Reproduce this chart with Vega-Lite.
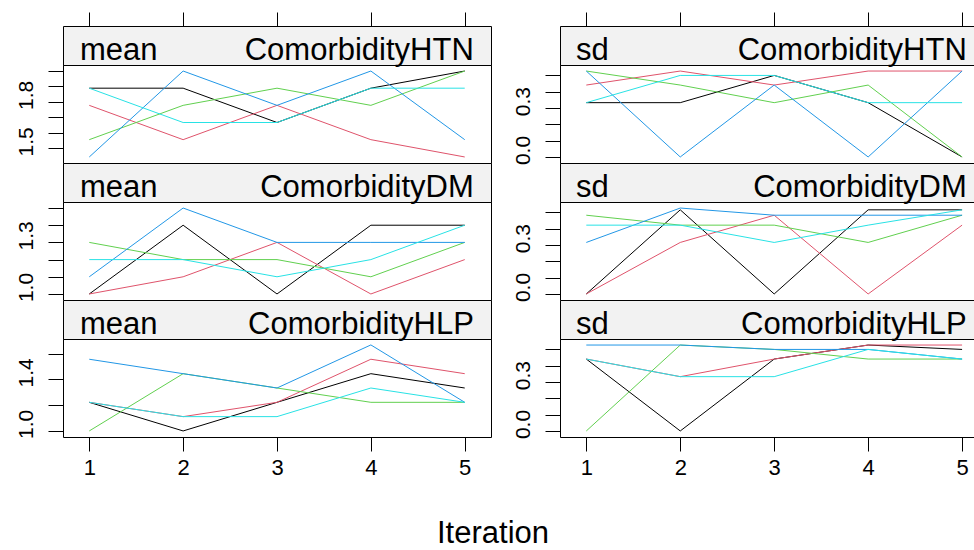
{
  "$schema": "https://vega.github.io/schema/vega-lite/v6.json",
  "padding": {"left": 14, "top": 11, "right": 0, "bottom": 0},
  "autosize": {"type": "pad"},
  "config": {
    "font": "Liberation Sans",
    "view": {"stroke": "black", "strokeWidth": 1},
    "axis": {"domain": false, "grid": false, "tickColor": "black", "tickWidth": 1, "labelColor": "black", "labelFont": "Liberation Sans", "labelFontSize": 21, "tickSize": 15, "labelOverlap": false, "title": null},
    "text": {"font": "Liberation Sans", "fontSize": 31, "color": "black"},
    "line": {"strokeWidth": 1}
  },
  "datasets": {
    "d": [
      {"stat":"mean","var":"ComorbidityHTN","chain":1,"iter":1,"value":1.889},
      {"stat":"mean","var":"ComorbidityHTN","chain":1,"iter":2,"value":1.889},
      {"stat":"mean","var":"ComorbidityHTN","chain":1,"iter":3,"value":1.667},
      {"stat":"mean","var":"ComorbidityHTN","chain":1,"iter":4,"value":1.889},
      {"stat":"mean","var":"ComorbidityHTN","chain":1,"iter":5,"value":2.0},
      {"stat":"mean","var":"ComorbidityHTN","chain":2,"iter":1,"value":1.778},
      {"stat":"mean","var":"ComorbidityHTN","chain":2,"iter":2,"value":1.556},
      {"stat":"mean","var":"ComorbidityHTN","chain":2,"iter":3,"value":1.778},
      {"stat":"mean","var":"ComorbidityHTN","chain":2,"iter":4,"value":1.556},
      {"stat":"mean","var":"ComorbidityHTN","chain":2,"iter":5,"value":1.444},
      {"stat":"mean","var":"ComorbidityHTN","chain":3,"iter":1,"value":1.556},
      {"stat":"mean","var":"ComorbidityHTN","chain":3,"iter":2,"value":1.778},
      {"stat":"mean","var":"ComorbidityHTN","chain":3,"iter":3,"value":1.889},
      {"stat":"mean","var":"ComorbidityHTN","chain":3,"iter":4,"value":1.778},
      {"stat":"mean","var":"ComorbidityHTN","chain":3,"iter":5,"value":2.0},
      {"stat":"mean","var":"ComorbidityHTN","chain":4,"iter":1,"value":1.444},
      {"stat":"mean","var":"ComorbidityHTN","chain":4,"iter":2,"value":2.0},
      {"stat":"mean","var":"ComorbidityHTN","chain":4,"iter":3,"value":1.778},
      {"stat":"mean","var":"ComorbidityHTN","chain":4,"iter":4,"value":2.0},
      {"stat":"mean","var":"ComorbidityHTN","chain":4,"iter":5,"value":1.556},
      {"stat":"mean","var":"ComorbidityHTN","chain":5,"iter":1,"value":1.889},
      {"stat":"mean","var":"ComorbidityHTN","chain":5,"iter":2,"value":1.667},
      {"stat":"mean","var":"ComorbidityHTN","chain":5,"iter":3,"value":1.667},
      {"stat":"mean","var":"ComorbidityHTN","chain":5,"iter":4,"value":1.889},
      {"stat":"mean","var":"ComorbidityHTN","chain":5,"iter":5,"value":1.889},

      {"stat":"sd","var":"ComorbidityHTN","chain":1,"iter":1,"value":0.333},
      {"stat":"sd","var":"ComorbidityHTN","chain":1,"iter":2,"value":0.333},
      {"stat":"sd","var":"ComorbidityHTN","chain":1,"iter":3,"value":0.5},
      {"stat":"sd","var":"ComorbidityHTN","chain":1,"iter":4,"value":0.333},
      {"stat":"sd","var":"ComorbidityHTN","chain":1,"iter":5,"value":0.0},
      {"stat":"sd","var":"ComorbidityHTN","chain":2,"iter":1,"value":0.441},
      {"stat":"sd","var":"ComorbidityHTN","chain":2,"iter":2,"value":0.527},
      {"stat":"sd","var":"ComorbidityHTN","chain":2,"iter":3,"value":0.441},
      {"stat":"sd","var":"ComorbidityHTN","chain":2,"iter":4,"value":0.527},
      {"stat":"sd","var":"ComorbidityHTN","chain":2,"iter":5,"value":0.527},
      {"stat":"sd","var":"ComorbidityHTN","chain":3,"iter":1,"value":0.527},
      {"stat":"sd","var":"ComorbidityHTN","chain":3,"iter":2,"value":0.441},
      {"stat":"sd","var":"ComorbidityHTN","chain":3,"iter":3,"value":0.333},
      {"stat":"sd","var":"ComorbidityHTN","chain":3,"iter":4,"value":0.441},
      {"stat":"sd","var":"ComorbidityHTN","chain":3,"iter":5,"value":0.0},
      {"stat":"sd","var":"ComorbidityHTN","chain":4,"iter":1,"value":0.527},
      {"stat":"sd","var":"ComorbidityHTN","chain":4,"iter":2,"value":0.0},
      {"stat":"sd","var":"ComorbidityHTN","chain":4,"iter":3,"value":0.441},
      {"stat":"sd","var":"ComorbidityHTN","chain":4,"iter":4,"value":0.0},
      {"stat":"sd","var":"ComorbidityHTN","chain":4,"iter":5,"value":0.527},
      {"stat":"sd","var":"ComorbidityHTN","chain":5,"iter":1,"value":0.333},
      {"stat":"sd","var":"ComorbidityHTN","chain":5,"iter":2,"value":0.5},
      {"stat":"sd","var":"ComorbidityHTN","chain":5,"iter":3,"value":0.5},
      {"stat":"sd","var":"ComorbidityHTN","chain":5,"iter":4,"value":0.333},
      {"stat":"sd","var":"ComorbidityHTN","chain":5,"iter":5,"value":0.333},

      {"stat":"mean","var":"ComorbidityDM","chain":1,"iter":1,"value":1.0},
      {"stat":"mean","var":"ComorbidityDM","chain":1,"iter":2,"value":1.4},
      {"stat":"mean","var":"ComorbidityDM","chain":1,"iter":3,"value":1.0},
      {"stat":"mean","var":"ComorbidityDM","chain":1,"iter":4,"value":1.4},
      {"stat":"mean","var":"ComorbidityDM","chain":1,"iter":5,"value":1.4},
      {"stat":"mean","var":"ComorbidityDM","chain":2,"iter":1,"value":1.0},
      {"stat":"mean","var":"ComorbidityDM","chain":2,"iter":2,"value":1.1},
      {"stat":"mean","var":"ComorbidityDM","chain":2,"iter":3,"value":1.3},
      {"stat":"mean","var":"ComorbidityDM","chain":2,"iter":4,"value":1.0},
      {"stat":"mean","var":"ComorbidityDM","chain":2,"iter":5,"value":1.2},
      {"stat":"mean","var":"ComorbidityDM","chain":3,"iter":1,"value":1.3},
      {"stat":"mean","var":"ComorbidityDM","chain":3,"iter":2,"value":1.2},
      {"stat":"mean","var":"ComorbidityDM","chain":3,"iter":3,"value":1.2},
      {"stat":"mean","var":"ComorbidityDM","chain":3,"iter":4,"value":1.1},
      {"stat":"mean","var":"ComorbidityDM","chain":3,"iter":5,"value":1.3},
      {"stat":"mean","var":"ComorbidityDM","chain":4,"iter":1,"value":1.1},
      {"stat":"mean","var":"ComorbidityDM","chain":4,"iter":2,"value":1.5},
      {"stat":"mean","var":"ComorbidityDM","chain":4,"iter":3,"value":1.3},
      {"stat":"mean","var":"ComorbidityDM","chain":4,"iter":4,"value":1.3},
      {"stat":"mean","var":"ComorbidityDM","chain":4,"iter":5,"value":1.3},
      {"stat":"mean","var":"ComorbidityDM","chain":5,"iter":1,"value":1.2},
      {"stat":"mean","var":"ComorbidityDM","chain":5,"iter":2,"value":1.2},
      {"stat":"mean","var":"ComorbidityDM","chain":5,"iter":3,"value":1.1},
      {"stat":"mean","var":"ComorbidityDM","chain":5,"iter":4,"value":1.2},
      {"stat":"mean","var":"ComorbidityDM","chain":5,"iter":5,"value":1.4},

      {"stat":"sd","var":"ComorbidityDM","chain":1,"iter":1,"value":0.0},
      {"stat":"sd","var":"ComorbidityDM","chain":1,"iter":2,"value":0.516},
      {"stat":"sd","var":"ComorbidityDM","chain":1,"iter":3,"value":0.0},
      {"stat":"sd","var":"ComorbidityDM","chain":1,"iter":4,"value":0.516},
      {"stat":"sd","var":"ComorbidityDM","chain":1,"iter":5,"value":0.516},
      {"stat":"sd","var":"ComorbidityDM","chain":2,"iter":1,"value":0.0},
      {"stat":"sd","var":"ComorbidityDM","chain":2,"iter":2,"value":0.316},
      {"stat":"sd","var":"ComorbidityDM","chain":2,"iter":3,"value":0.483},
      {"stat":"sd","var":"ComorbidityDM","chain":2,"iter":4,"value":0.0},
      {"stat":"sd","var":"ComorbidityDM","chain":2,"iter":5,"value":0.422},
      {"stat":"sd","var":"ComorbidityDM","chain":3,"iter":1,"value":0.483},
      {"stat":"sd","var":"ComorbidityDM","chain":3,"iter":2,"value":0.422},
      {"stat":"sd","var":"ComorbidityDM","chain":3,"iter":3,"value":0.422},
      {"stat":"sd","var":"ComorbidityDM","chain":3,"iter":4,"value":0.316},
      {"stat":"sd","var":"ComorbidityDM","chain":3,"iter":5,"value":0.483},
      {"stat":"sd","var":"ComorbidityDM","chain":4,"iter":1,"value":0.316},
      {"stat":"sd","var":"ComorbidityDM","chain":4,"iter":2,"value":0.527},
      {"stat":"sd","var":"ComorbidityDM","chain":4,"iter":3,"value":0.483},
      {"stat":"sd","var":"ComorbidityDM","chain":4,"iter":4,"value":0.483},
      {"stat":"sd","var":"ComorbidityDM","chain":4,"iter":5,"value":0.483},
      {"stat":"sd","var":"ComorbidityDM","chain":5,"iter":1,"value":0.422},
      {"stat":"sd","var":"ComorbidityDM","chain":5,"iter":2,"value":0.422},
      {"stat":"sd","var":"ComorbidityDM","chain":5,"iter":3,"value":0.316},
      {"stat":"sd","var":"ComorbidityDM","chain":5,"iter":4,"value":0.422},
      {"stat":"sd","var":"ComorbidityDM","chain":5,"iter":5,"value":0.516},

      {"stat":"mean","var":"ComorbidityHLP","chain":1,"iter":1,"value":1.222},
      {"stat":"mean","var":"ComorbidityHLP","chain":1,"iter":2,"value":1.0},
      {"stat":"mean","var":"ComorbidityHLP","chain":1,"iter":3,"value":1.222},
      {"stat":"mean","var":"ComorbidityHLP","chain":1,"iter":4,"value":1.444},
      {"stat":"mean","var":"ComorbidityHLP","chain":1,"iter":5,"value":1.333},
      {"stat":"mean","var":"ComorbidityHLP","chain":2,"iter":1,"value":1.222},
      {"stat":"mean","var":"ComorbidityHLP","chain":2,"iter":2,"value":1.111},
      {"stat":"mean","var":"ComorbidityHLP","chain":2,"iter":3,"value":1.222},
      {"stat":"mean","var":"ComorbidityHLP","chain":2,"iter":4,"value":1.556},
      {"stat":"mean","var":"ComorbidityHLP","chain":2,"iter":5,"value":1.444},
      {"stat":"mean","var":"ComorbidityHLP","chain":3,"iter":1,"value":1.0},
      {"stat":"mean","var":"ComorbidityHLP","chain":3,"iter":2,"value":1.444},
      {"stat":"mean","var":"ComorbidityHLP","chain":3,"iter":3,"value":1.333},
      {"stat":"mean","var":"ComorbidityHLP","chain":3,"iter":4,"value":1.222},
      {"stat":"mean","var":"ComorbidityHLP","chain":3,"iter":5,"value":1.222},
      {"stat":"mean","var":"ComorbidityHLP","chain":4,"iter":1,"value":1.556},
      {"stat":"mean","var":"ComorbidityHLP","chain":4,"iter":2,"value":1.444},
      {"stat":"mean","var":"ComorbidityHLP","chain":4,"iter":3,"value":1.333},
      {"stat":"mean","var":"ComorbidityHLP","chain":4,"iter":4,"value":1.667},
      {"stat":"mean","var":"ComorbidityHLP","chain":4,"iter":5,"value":1.222},
      {"stat":"mean","var":"ComorbidityHLP","chain":5,"iter":1,"value":1.222},
      {"stat":"mean","var":"ComorbidityHLP","chain":5,"iter":2,"value":1.111},
      {"stat":"mean","var":"ComorbidityHLP","chain":5,"iter":3,"value":1.111},
      {"stat":"mean","var":"ComorbidityHLP","chain":5,"iter":4,"value":1.333},
      {"stat":"mean","var":"ComorbidityHLP","chain":5,"iter":5,"value":1.222},

      {"stat":"sd","var":"ComorbidityHLP","chain":1,"iter":1,"value":0.441},
      {"stat":"sd","var":"ComorbidityHLP","chain":1,"iter":2,"value":0.0},
      {"stat":"sd","var":"ComorbidityHLP","chain":1,"iter":3,"value":0.441},
      {"stat":"sd","var":"ComorbidityHLP","chain":1,"iter":4,"value":0.527},
      {"stat":"sd","var":"ComorbidityHLP","chain":1,"iter":5,"value":0.5},
      {"stat":"sd","var":"ComorbidityHLP","chain":2,"iter":1,"value":0.441},
      {"stat":"sd","var":"ComorbidityHLP","chain":2,"iter":2,"value":0.333},
      {"stat":"sd","var":"ComorbidityHLP","chain":2,"iter":3,"value":0.441},
      {"stat":"sd","var":"ComorbidityHLP","chain":2,"iter":4,"value":0.527},
      {"stat":"sd","var":"ComorbidityHLP","chain":2,"iter":5,"value":0.527},
      {"stat":"sd","var":"ComorbidityHLP","chain":3,"iter":1,"value":0.0},
      {"stat":"sd","var":"ComorbidityHLP","chain":3,"iter":2,"value":0.527},
      {"stat":"sd","var":"ComorbidityHLP","chain":3,"iter":3,"value":0.5},
      {"stat":"sd","var":"ComorbidityHLP","chain":3,"iter":4,"value":0.441},
      {"stat":"sd","var":"ComorbidityHLP","chain":3,"iter":5,"value":0.441},
      {"stat":"sd","var":"ComorbidityHLP","chain":4,"iter":1,"value":0.527},
      {"stat":"sd","var":"ComorbidityHLP","chain":4,"iter":2,"value":0.527},
      {"stat":"sd","var":"ComorbidityHLP","chain":4,"iter":3,"value":0.5},
      {"stat":"sd","var":"ComorbidityHLP","chain":4,"iter":4,"value":0.5},
      {"stat":"sd","var":"ComorbidityHLP","chain":4,"iter":5,"value":0.441},
      {"stat":"sd","var":"ComorbidityHLP","chain":5,"iter":1,"value":0.441},
      {"stat":"sd","var":"ComorbidityHLP","chain":5,"iter":2,"value":0.333},
      {"stat":"sd","var":"ComorbidityHLP","chain":5,"iter":3,"value":0.333},
      {"stat":"sd","var":"ComorbidityHLP","chain":5,"iter":4,"value":0.5},
      {"stat":"sd","var":"ComorbidityHLP","chain":5,"iter":5,"value":0.441}
    ],
    "strips": [
      {"stat":"mean","var":"ComorbidityHTN"},
      {"stat":"mean","var":"ComorbidityDM"},
      {"stat":"mean","var":"ComorbidityHLP"},
      {"stat":"sd","var":"ComorbidityHTN"},
      {"stat":"sd","var":"ComorbidityDM"},
      {"stat":"sd","var":"ComorbidityHLP"}
    ]
  },
  "title": {"text": "Iteration", "orient": "bottom", "anchor": "middle", "fontSize": 31, "fontWeight": "normal", "font": "Liberation Sans", "color": "black", "offset": 40, "dx": -4},
  "spacing": 19,
  "hconcat": [
    {
      "spacing": 0,
      "bounds": "flush",
      "vconcat": [
        {
          "width": 428, "height": 39,
          "view": {"fill": "#f2f2f2", "stroke": "black"},
          "data": {"name": "strips"},
          "transform": [{"filter": "datum.stat=='mean' && datum.var=='ComorbidityHTN'"}],
          "layer": [
            {"mark": {"type": "text", "align": "left", "baseline": "alphabetic", "dy": 14},
             "encoding": {"x": {"datum": 0.9, "type": "quantitative", "scale": {"domain": [0.72, 5.28], "nice": false, "zero": false}, "axis": {"orient": "top", "values": [1,2,3,4,5], "labels": false, "tickSize": 14}}, "text": {"field": "stat"}}},
            {"mark": {"type": "text", "align": "right", "baseline": "alphabetic", "dy": 14},
             "encoding": {"x": {"datum": 5.097, "type": "quantitative"}, "text": {"field": "var"}}}
          ]
        },
        {
          "width": 428, "height": 98,
          "data": {"name": "d"},
          "transform": [{"filter": "datum.stat=='mean' && datum.var=='ComorbidityHTN'"}],
          "mark": {"type": "line", "strokeWidth": 1},
          "encoding": {
            "x": {"field": "iter", "type": "quantitative", "scale": {"domain": [0.72, 5.28], "nice": false, "zero": false}, "axis": null},
            "y": {"field": "value", "type": "quantitative", "scale": {"domain": [1.405, 2.039], "nice": false, "zero": false},
                  "axis": {"values": [1.5, 1.6, 1.7, 1.8, 1.9, 2.0], "format": ".1f", "labelExpr": "datum.label=='1.5' || datum.label=='1.8' ? datum.label : ''", "labelAngle": 270, "labelPadding": 12, "labelOffset": -7}},
            "color": {"field": "chain", "type": "nominal", "scale": {"domain": [1,2,3,4,5], "range": ["#000000", "#DF536B", "#61D04F", "#2297E6", "#28E2E5"]}, "legend": null}
          }
        },
        {
          "width": 428, "height": 39,
          "view": {"fill": "#f2f2f2", "stroke": "black"},
          "data": {"name": "strips"},
          "transform": [{"filter": "datum.stat=='mean' && datum.var=='ComorbidityDM'"}],
          "layer": [
            {"mark": {"type": "text", "align": "left", "baseline": "alphabetic", "dy": 14},
             "encoding": {"x": {"datum": 0.9, "type": "quantitative", "scale": {"domain": [0.72, 5.28], "nice": false, "zero": false}, "axis": null}, "text": {"field": "stat"}}},
            {"mark": {"type": "text", "align": "right", "baseline": "alphabetic", "dy": 14},
             "encoding": {"x": {"datum": 5.097, "type": "quantitative"}, "text": {"field": "var"}}}
          ]
        },
        {
          "width": 428, "height": 98,
          "data": {"name": "d"},
          "transform": [{"filter": "datum.stat=='mean' && datum.var=='ComorbidityDM'"}],
          "mark": {"type": "line", "strokeWidth": 1},
          "encoding": {
            "x": {"field": "iter", "type": "quantitative", "scale": {"domain": [0.72, 5.28], "nice": false, "zero": false}, "axis": null},
            "y": {"field": "value", "type": "quantitative", "scale": {"domain": [0.965, 1.535], "nice": false, "zero": false},
                  "axis": {"values": [1.0, 1.1, 1.2, 1.3, 1.4, 1.5], "format": ".1f", "labelExpr": "datum.label=='1.0' || datum.label=='1.3' ? datum.label : ''", "labelAngle": 270, "labelPadding": 12, "labelOffset": -7}},
            "color": {"field": "chain", "type": "nominal", "scale": {"domain": [1,2,3,4,5], "range": ["#000000", "#DF536B", "#61D04F", "#2297E6", "#28E2E5"]}, "legend": null}
          }
        },
        {
          "width": 428, "height": 39,
          "view": {"fill": "#f2f2f2", "stroke": "black"},
          "data": {"name": "strips"},
          "transform": [{"filter": "datum.stat=='mean' && datum.var=='ComorbidityHLP'"}],
          "layer": [
            {"mark": {"type": "text", "align": "left", "baseline": "alphabetic", "dy": 14},
             "encoding": {"x": {"datum": 0.9, "type": "quantitative", "scale": {"domain": [0.72, 5.28], "nice": false, "zero": false}, "axis": null}, "text": {"field": "stat"}}},
            {"mark": {"type": "text", "align": "right", "baseline": "alphabetic", "dy": 14},
             "encoding": {"x": {"datum": 5.097, "type": "quantitative"}, "text": {"field": "var"}}}
          ]
        },
        {
          "width": 428, "height": 98,
          "data": {"name": "d"},
          "transform": [{"filter": "datum.stat=='mean' && datum.var=='ComorbidityHLP'"}],
          "mark": {"type": "line", "strokeWidth": 1},
          "encoding": {
            "x": {"field": "iter", "type": "quantitative", "scale": {"domain": [0.72, 5.28], "nice": false, "zero": false},
                  "axis": {"orient": "bottom", "values": [1,2,3,4,5], "format": "d", "tickSize": 14, "labelPadding": 6, "labelFontSize": 22}},
            "y": {"field": "value", "type": "quantitative", "scale": {"domain": [0.953, 1.713], "nice": false, "zero": false},
                  "axis": {"values": [1.0, 1.2, 1.4, 1.6], "format": ".1f", "labelExpr": "datum.label=='1.0' || datum.label=='1.4' ? datum.label : ''", "labelAngle": 270, "labelPadding": 12, "labelOffset": -7}},
            "color": {"field": "chain", "type": "nominal", "scale": {"domain": [1,2,3,4,5], "range": ["#000000", "#DF536B", "#61D04F", "#2297E6", "#28E2E5"]}, "legend": null}
          }
        }
      ]
    },
    {
      "spacing": 0,
      "bounds": "flush",
      "vconcat": [
        {
          "width": 419, "height": 39,
          "view": {"fill": "#f2f2f2", "stroke": "black"},
          "data": {"name": "strips"},
          "transform": [{"filter": "datum.stat=='sd' && datum.var=='ComorbidityHTN'"}],
          "layer": [
            {"mark": {"type": "text", "align": "left", "baseline": "alphabetic", "dy": 14},
             "encoding": {"x": {"datum": 0.89, "type": "quantitative", "scale": {"domain": [0.72, 5.18], "nice": false, "zero": false}, "axis": {"orient": "top", "values": [1,2,3,4,5], "labels": false, "tickSize": 14}}, "text": {"field": "stat"}}},
            {"mark": {"type": "text", "align": "right", "baseline": "alphabetic", "dy": 14},
             "encoding": {"x": {"datum": 5.05, "type": "quantitative"}, "text": {"field": "var"}}}
          ]
        },
        {
          "width": 419, "height": 98,
          "data": {"name": "d"},
          "transform": [{"filter": "datum.stat=='sd' && datum.var=='ComorbidityHTN'"}],
          "mark": {"type": "line", "strokeWidth": 1},
          "encoding": {
            "x": {"field": "iter", "type": "quantitative", "scale": {"domain": [0.72, 5.18], "nice": false, "zero": false}, "axis": null},
            "y": {"field": "value", "type": "quantitative", "scale": {"domain": [-0.037, 0.564], "nice": false, "zero": false},
                  "axis": {"values": [0, 0.1, 0.2, 0.3, 0.4, 0.5], "format": ".1f", "labelExpr": "datum.label=='0.0' || datum.label=='0.3' ? datum.label : ''", "labelAngle": 270, "labelPadding": 12, "labelOffset": -7}},
            "color": {"field": "chain", "type": "nominal", "scale": {"domain": [1,2,3,4,5], "range": ["#000000", "#DF536B", "#61D04F", "#2297E6", "#28E2E5"]}, "legend": null}
          }
        },
        {
          "width": 419, "height": 39,
          "view": {"fill": "#f2f2f2", "stroke": "black"},
          "data": {"name": "strips"},
          "transform": [{"filter": "datum.stat=='sd' && datum.var=='ComorbidityDM'"}],
          "layer": [
            {"mark": {"type": "text", "align": "left", "baseline": "alphabetic", "dy": 14},
             "encoding": {"x": {"datum": 0.89, "type": "quantitative", "scale": {"domain": [0.72, 5.18], "nice": false, "zero": false}, "axis": null}, "text": {"field": "stat"}}},
            {"mark": {"type": "text", "align": "right", "baseline": "alphabetic", "dy": 14},
             "encoding": {"x": {"datum": 5.05, "type": "quantitative"}, "text": {"field": "var"}}}
          ]
        },
        {
          "width": 419, "height": 98,
          "data": {"name": "d"},
          "transform": [{"filter": "datum.stat=='sd' && datum.var=='ComorbidityDM'"}],
          "mark": {"type": "line", "strokeWidth": 1},
          "encoding": {
            "x": {"field": "iter", "type": "quantitative", "scale": {"domain": [0.72, 5.18], "nice": false, "zero": false}, "axis": null},
            "y": {"field": "value", "type": "quantitative", "scale": {"domain": [-0.037, 0.564], "nice": false, "zero": false},
                  "axis": {"values": [0, 0.1, 0.2, 0.3, 0.4, 0.5], "format": ".1f", "labelExpr": "datum.label=='0.0' || datum.label=='0.3' ? datum.label : ''", "labelAngle": 270, "labelPadding": 12, "labelOffset": -7}},
            "color": {"field": "chain", "type": "nominal", "scale": {"domain": [1,2,3,4,5], "range": ["#000000", "#DF536B", "#61D04F", "#2297E6", "#28E2E5"]}, "legend": null}
          }
        },
        {
          "width": 419, "height": 39,
          "view": {"fill": "#f2f2f2", "stroke": "black"},
          "data": {"name": "strips"},
          "transform": [{"filter": "datum.stat=='sd' && datum.var=='ComorbidityHLP'"}],
          "layer": [
            {"mark": {"type": "text", "align": "left", "baseline": "alphabetic", "dy": 14},
             "encoding": {"x": {"datum": 0.89, "type": "quantitative", "scale": {"domain": [0.72, 5.18], "nice": false, "zero": false}, "axis": null}, "text": {"field": "stat"}}},
            {"mark": {"type": "text", "align": "right", "baseline": "alphabetic", "dy": 14},
             "encoding": {"x": {"datum": 5.05, "type": "quantitative"}, "text": {"field": "var"}}}
          ]
        },
        {
          "width": 419, "height": 98,
          "data": {"name": "d"},
          "transform": [{"filter": "datum.stat=='sd' && datum.var=='ComorbidityHLP'"}],
          "mark": {"type": "line", "strokeWidth": 1},
          "encoding": {
            "x": {"field": "iter", "type": "quantitative", "scale": {"domain": [0.72, 5.18], "nice": false, "zero": false},
                  "axis": {"orient": "bottom", "values": [1,2,3,4,5], "format": "d", "tickSize": 14, "labelPadding": 6, "labelFontSize": 22}},
            "y": {"field": "value", "type": "quantitative", "scale": {"domain": [-0.037, 0.564], "nice": false, "zero": false},
                  "axis": {"values": [0, 0.1, 0.2, 0.3, 0.4, 0.5], "format": ".1f", "labelExpr": "datum.label=='0.0' || datum.label=='0.3' ? datum.label : ''", "labelAngle": 270, "labelPadding": 12, "labelOffset": -7}},
            "color": {"field": "chain", "type": "nominal", "scale": {"domain": [1,2,3,4,5], "range": ["#000000", "#DF536B", "#61D04F", "#2297E6", "#28E2E5"]}, "legend": null}
          }
        }
      ]
    }
  ]
}
